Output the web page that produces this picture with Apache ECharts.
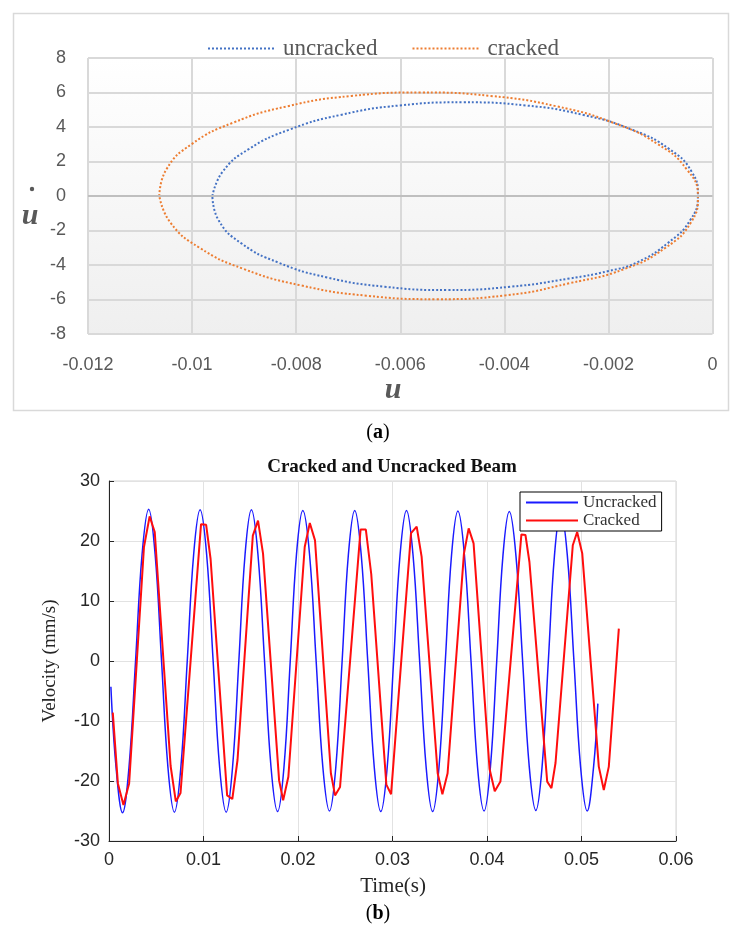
<!DOCTYPE html>
<html>
<head>
<meta charset="utf-8">
<script src="https://cdn.jsdelivr.net/npm/echarts@6/dist/echarts.min.js"></script>
<style>html,body{margin:0;padding:0;background:#fff}#c{width:732px;height:929px}</style>
</head>
<body>
<div id="c"></div>
<script>
// ---------- Panel (a): phase portrait (u, u-dot) ----------
const phaseUncrackedU = [-0.00961,-0.009412,-0.00891,-0.008137,-0.007148,-0.006008,-0.004795,-0.003592,-0.002483,-0.001541,-0.00083,-0.0004,-0.00028,-0.00043,-0.00086,-0.00145,-0.002,-0.002743,-0.003882,-0.005095,-0.006298,-0.007408,-0.008349,-0.00906,-0.00949,-0.00961];
const phaseUncrackedV = [0,1.41,2.72,3.84,4.70,5.25,5.43,5.25,4.70,3.84,2.72,1.41,0,-1.41,-2.73,-3.85,-4.35,-4.78,-5.26,-5.45,-5.26,-4.72,-3.85,-2.73,-1.41,0];
const phaseCrackedU = [-0.01063,-0.010493,-0.010012,-0.00922,-0.008173,-0.00694,-0.005605,-0.00426,-0.002998,-0.001902,-0.001048,-0.000495,-0.00028,-0.000417,-0.000898,-0.00169,-0.002738,-0.00397,-0.005305,-0.00665,-0.007913,-0.009008,-0.009862,-0.010415,-0.01063];
const phaseCrackedV = [0,1.55,3.0,4.24,5.2,5.8,6.0,5.8,5.2,4.24,3.0,1.55,0,-1.55,-2.99,-4.23,-5.05,-5.76,-5.98,-5.78,-5.18,-4.23,-2.99,-1.55,0];
const phaseXTicks = {min:-0.012, max:0, step:0.002};
const phaseYTicks = {min:-8, max:8, step:2};

// ---------- Panel (b): velocity time history ----------
const timeUncracked = [0.0002,0.00075,0.00143,0.00211,0.00281,0.0035,0.0042,0.00488,0.00556,0.00624,0.00692,0.0076,0.00828,0.00896,0.00964,0.01033,0.01102,0.01171,0.0124,0.01307,0.01374,0.0144,0.01507,0.01576,0.01646,0.01715,0.01784,0.01851,0.01918,0.01984,0.02051,0.02122,0.02192,0.02263,0.02333,0.024,0.02467,0.02533,0.026,0.02669,0.02738,0.02807,0.02876,0.02944,0.03012,0.0308,0.03148,0.03217,0.03287,0.03356,0.03425,0.03492,0.03559,0.03625,0.03692,0.03761,0.03831,0.039,0.03969,0.04036,0.04103,0.04169,0.04236,0.04306,0.04377,0.04447,0.04517,0.04583,0.04649,0.04714,0.0478,0.0485,0.0492,0.0499,0.0506,0.05128,0.05173];
const velUncracked = [-4.3,-17.8,-25.3,-17.8,0,17.8,25.3,17.8,0,-17.8,-25.2,-17.8,0,17.8,25.2,17.8,0,-17.8,-25.2,-17.8,0,17.8,25.2,17.8,0,-17.8,-25.1,-17.8,0,17.8,25.1,17.8,0,-17.7,-25.0,-17.7,0,17.7,25.1,17.7,0,-17.7,-25.1,-17.7,0,17.7,25.1,17.7,0,-17.7,-25.1,-17.7,0,17.7,25.0,17.7,0,-17.7,-25.0,-17.7,0,17.6,24.9,17.6,0,-17.6,-24.9,-17.6,0,17.6,24.9,17.6,0,-17.6,-25.0,-17.6,-7.1];
const timeCracked = [0.0004,0.00094,0.00153,0.00213,0.0037,0.0043,0.00484,0.00652,0.00707,0.00757,0.00974,0.01028,0.01075,0.0125,0.01305,0.0136,0.01522,0.01577,0.0163,0.018,0.01843,0.01898,0.02071,0.02125,0.0218,0.02348,0.02392,0.02445,0.02662,0.02718,0.02775,0.02935,0.02985,0.03196,0.03256,0.03308,0.03478,0.03528,0.03583,0.03756,0.03806,0.03858,0.04027,0.04082,0.04142,0.04364,0.04407,0.04449,0.04637,0.04682,0.04725,0.04908,0.04954,0.05008,0.05183,0.05236,0.05289,0.05395];
const velCracked = [-8.6,-20.4,-24.0,-20.4,19.0,24.1,21.5,-17.5,-23.4,-22.0,22.8,22.7,17.0,-22.4,-23.0,-16.5,20.9,23.4,17.9,-19.9,-23.2,-19.3,19.0,23.0,20.1,-18.7,-22.4,-21.0,21.9,21.9,14.5,-20.6,-22.2,21.3,22.4,17.4,-18.7,-22.2,-18.7,17.9,22.1,19.6,-18.0,-21.7,-20.1,21.1,21.0,16.5,-20.1,-21.2,-17.0,19.3,21.5,17.9,-17.6,-21.5,-17.6,5.4];
const timeTicks = {min:0, max:0.06, step:0.01};
const velTicks = {min:-30, max:30, step:10};

const zip = (a, b) => a.map((x, i) => [x, b[i]]);

const chart = echarts.init(document.getElementById('c'), null, {renderer:'canvas'});
const labelA = {color:'#595959', fontSize:18, fontFamily:'Liberation Sans, Arial, sans-serif'};
const labelB = {color:'#262626', fontSize:18, fontFamily:'Liberation Sans, Arial, sans-serif'};

const option = {
  animation:false,
  backgroundColor:'#ffffff',
  graphic:[
    {type:'rect', shape:{x:13.5, y:13.5, width:715, height:397}, style:{fill:'none', stroke:'#d9d9d9', lineWidth:1.5}, z:-10},
    {type:'text', x:393, y:390, style:{text:'u', font:'italic bold 30px "Liberation Serif", serif', fill:'#595959', textAlign:'center', textVerticalAlign:'middle'}},
    {type:'text', x:30, y:216, style:{text:'u', font:'italic bold 30px "Liberation Serif", serif', fill:'#595959', textAlign:'center', textVerticalAlign:'middle'}},
    {type:'circle', shape:{cx:32, cy:189, r:2.2}, style:{fill:'#595959'}},
    {type:'text', x:378, y:433, style:{rich:{p:{font:'20px "Liberation Serif", serif', fill:'#000'}, b:{font:'bold 20px "Liberation Serif", serif', fill:'#000'}}, text:'{p|(}{b|a}{p|)}', textAlign:'center', textVerticalAlign:'middle'}},
    {type:'text', x:378, y:914, style:{rich:{p:{font:'20px "Liberation Serif", serif', fill:'#000'}, b:{font:'bold 20px "Liberation Serif", serif', fill:'#000'}}, text:'{p|(}{b|b}{p|)}', textAlign:'center', textVerticalAlign:'middle'}},
    {type:'text', x:392, y:467, style:{text:'Cracked and Uncracked Beam', font:'bold 19px "Liberation Serif", serif', fill:'#111', textAlign:'center', textVerticalAlign:'middle'}},
    {type:'text', x:393, y:886, style:{text:'Time(s)', font:'21px "Liberation Serif", serif', fill:'#262626', textAlign:'center', textVerticalAlign:'middle'}},
    {type:'text', x:50, y:661, rotation:Math.PI/2, style:{text:'Velocity (mm/s)', font:'19px "Liberation Serif", serif', fill:'#262626', textAlign:'center', textVerticalAlign:'middle'}}
  ],
  legend:[
    {data:['uncracked','cracked'], left:207, top:37, padding:0, itemWidth:67, itemHeight:12, itemGap:34,
     itemStyle:{opacity:0},
     textStyle:{fontFamily:'Liberation Serif, serif', fontSize:23, color:'#595959', padding:[0,0,0,3]}},
    {data:['Uncracked','Cracked'], orient:'vertical', left:520, top:492, padding:[2,5,2,5], itemWidth:52, itemHeight:10, itemGap:1,
     itemStyle:{opacity:0},
     borderColor:'#000', borderWidth:1, backgroundColor:'#fff',
     textStyle:{fontFamily:'Liberation Serif, serif', fontSize:17, color:'#333'}}
  ],
  grid:[
    {left:88, right:19.5, top:58, bottom:595, show:true, borderWidth:0,
     backgroundColor:new echarts.graphic.LinearGradient(0,0,0,1,[{offset:0,color:'#ffffff'},{offset:1,color:'#efefef'}])},
    {left:109, right:56, top:481, bottom:88, show:true, borderColor:'#d4d4d4', borderWidth:1, backgroundColor:'#fff'}
  ],
  xAxis:[
    {type:'value', gridIndex:0, min:phaseXTicks.min, max:phaseXTicks.max, interval:phaseXTicks.step,
     axisLine:{show:false}, axisTick:{show:false}, axisLabel:Object.assign({margin:22}, labelA),
     splitLine:{show:true, lineStyle:{color:'#d9d9d9', width:2}}},
    {type:'value', gridIndex:1, min:timeTicks.min, max:timeTicks.max, interval:timeTicks.step,
     axisLine:{show:true, onZero:false, lineStyle:{color:'#262626', width:1}},
     axisTick:{show:true, inside:true, length:5, lineStyle:{color:'#262626'}},
     axisLabel:Object.assign({margin:10}, labelB),
     splitLine:{show:true, lineStyle:{color:'#e2e2e2', width:1}}}
  ],
  yAxis:[
    {type:'value', gridIndex:0, min:phaseYTicks.min, max:phaseYTicks.max, interval:phaseYTicks.step,
     axisLine:{show:false}, axisTick:{show:false}, axisLabel:Object.assign({margin:22}, labelA),
     splitLine:{show:true, lineStyle:{color:'#d9d9d9', width:2}}},
    {type:'value', gridIndex:1, min:velTicks.min, max:velTicks.max, interval:velTicks.step,
     axisLine:{show:true, onZero:false, lineStyle:{color:'#262626', width:1}},
     axisTick:{show:true, inside:true, length:5, lineStyle:{color:'#262626'}},
     axisLabel:Object.assign({margin:9}, labelB),
     splitLine:{show:true, lineStyle:{color:'#e2e2e2', width:1}}}
  ],
  series:[
    {name:'uncracked', type:'line', xAxisIndex:0, yAxisIndex:0, data:zip(phaseUncrackedU, phaseUncrackedV),
     smooth:0.5, symbol:'none', color:'#4472c4', lineStyle:{color:'#4472c4', width:2, type:[2,2]},
     markLine:{silent:true, symbol:'none', label:{show:false}, data:[{yAxis:0}], lineStyle:{color:'#bfbfbf', width:2, type:'solid'}}, z:3},
    {name:'cracked', type:'line', xAxisIndex:0, yAxisIndex:0, data:zip(phaseCrackedU, phaseCrackedV),
     smooth:0.5, symbol:'none', color:'#ed7d31', lineStyle:{color:'#ed7d31', width:2, type:[2,2]}, z:3},
    {name:'Uncracked', type:'line', xAxisIndex:1, yAxisIndex:1, data:zip(timeUncracked, velUncracked),
     smooth:0.4, symbol:'none', color:'#1a1aff', lineStyle:{color:'#1a1aff', width:1.5}, z:3},
    {name:'Cracked', type:'line', xAxisIndex:1, yAxisIndex:1, data:zip(timeCracked, velCracked),
     smooth:false, symbol:'none', color:'#ff0d0d', lineStyle:{color:'#ff0d0d', width:2}, z:4}
  ]
};
chart.setOption(option);
</script>
</body>
</html>
